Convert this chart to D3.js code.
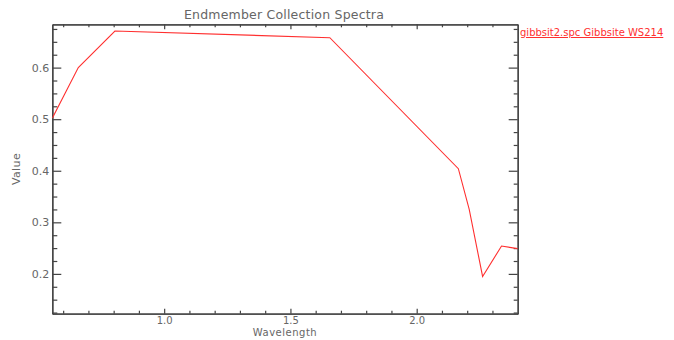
<!DOCTYPE html>
<html><head><meta charset="utf-8">
<script src="https://cdn.jsdelivr.net/npm/d3@7"></script>
<style>
html,body{margin:0;padding:0;background:#fff;}
svg text{font-family:"DejaVu Sans",sans-serif;fill:#666;}
</style></head>
<body>
<svg id="c" width="674" height="340"></svg>
<script>
const wavelength = [0.557, 0.660, 0.805, 1.656, 2.165, 2.208, 2.261, 2.336, 2.400];
const values     = [0.502, 0.600, 0.671, 0.658, 0.404, 0.325, 0.195, 0.254, 0.249];
const xMajorTicks = [1.0, 1.5, 2.0];
const xMinorTicks = [0.6,0.7,0.8,0.9,1.1,1.2,1.3,1.4,1.6,1.7,1.8,1.9,2.1,2.2,2.3];
const yMajorTicks = [0.2, 0.3, 0.4, 0.5, 0.6];
const yMinorTicks = [0.125,0.15,0.175,0.225,0.25,0.275,0.325,0.35,0.375,0.425,0.45,0.475,0.525,0.55,0.575,0.625,0.65,0.675];
const seriesName = "gibbsit2.spc Gibbsite WS214";
const titleText = "Endmember Collection Spectra";

const svg = d3.select("#c");
const L = 52.3, R = 517.7, T = 24.3, B = 313.7;
const x = d3.scaleLinear().domain([0.557, 2.40]).range([L, R]);
const y = d3.scaleLinear().domain([0.1228, 0.684]).range([B, T]);
const fmt = d3.format(".1f");
const axisColor = "#444";

function styleAxis(g){
  g.select(".domain").attr("stroke", axisColor).attr("stroke-width", 1.3);
  g.selectAll(".tick line").attr("stroke", axisColor).attr("stroke-width", 1.2);
  g.selectAll(".tick text").style("font-family","'DejaVu Sans',sans-serif").attr("fill","#666").style("font-size","11px");
}

// bottom
svg.append("g").attr("transform",`translate(0,${B})`)
  .call(d3.axisBottom(x).tickValues(xMinorTicks).tickSize(-3).tickFormat("").tickSizeOuter(0)).call(styleAxis);
const bx = svg.append("g").attr("transform",`translate(0,${B})`)
  .call(d3.axisBottom(x).tickValues(xMajorTicks).tickSize(-5).tickPadding(3).tickFormat(fmt).tickSizeOuter(0)).call(styleAxis);
bx.selectAll(".tick text").style("font-size","10px");
// top
svg.append("g").attr("transform",`translate(0,${T})`)
  .call(d3.axisTop(x).tickValues(xMinorTicks).tickSize(-3).tickFormat("").tickSizeOuter(0)).call(styleAxis);
svg.append("g").attr("transform",`translate(0,${T})`)
  .call(d3.axisTop(x).tickValues(xMajorTicks).tickSize(-5).tickFormat("").tickSizeOuter(0)).call(styleAxis);
// left
svg.append("g").attr("transform",`translate(${L},0)`)
  .call(d3.axisLeft(y).tickValues(yMinorTicks).tickSize(-5).tickFormat("").tickSizeOuter(0)).call(styleAxis);
svg.append("g").attr("transform",`translate(${L},0)`)
  .call(d3.axisLeft(y).tickValues(yMajorTicks).tickSize(-9).tickPadding(3).tickFormat(fmt).tickSizeOuter(0)).call(styleAxis);
// right
svg.append("g").attr("transform",`translate(${R},0)`)
  .call(d3.axisRight(y).tickValues(yMinorTicks).tickSize(-4).tickFormat("").tickSizeOuter(0)).call(styleAxis);
svg.append("g").attr("transform",`translate(${R},0)`)
  .call(d3.axisRight(y).tickValues(yMajorTicks).tickSize(-9).tickFormat("").tickSizeOuter(0)).call(styleAxis);

// clip + line
svg.append("clipPath").attr("id","clip").append("rect").attr("x",L).attr("y",T).attr("width",R-L).attr("height",B-T);
const pts = wavelength.map((w,i)=>[w, values[i]]);
svg.append("path").datum(pts).attr("clip-path","url(#clip)")
  .attr("fill","none").attr("stroke","#ff3030").attr("stroke-width",1.1)
  .attr("d", d3.line().x(d=>x(d[0])).y(d=>y(d[1])));

// title
svg.append("text").attr("x",(L+R)/2 - 1).attr("y",19).attr("text-anchor","middle")
  .style("font-size","12.5px").style("letter-spacing","0.2px").text(titleText);
// x label
svg.append("text").attr("x",(L+R)/2).attr("y",336).attr("text-anchor","middle")
  .style("font-size","10px").style("letter-spacing","0.5px").text("Wavelength");
// y label
svg.append("text").attr("transform",`translate(20,${(T+B)/2}) rotate(-90)`).attr("text-anchor","middle")
  .style("font-size","11px").style("letter-spacing","0.4px").text("Value");

// legend
svg.append("text").attr("x",520).attr("y",36)
  .style("font-size","10px").style("fill","#ff3030").style("text-decoration","underline").text(seriesName);
</script>
</body></html>
